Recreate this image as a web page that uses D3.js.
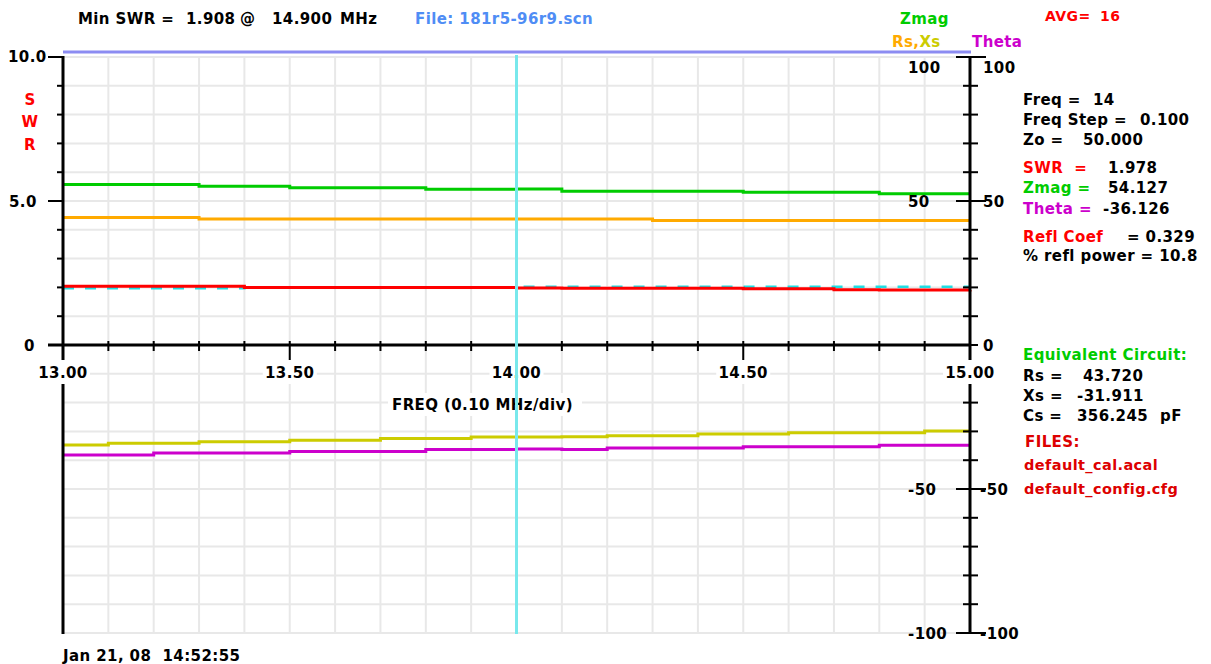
<!DOCTYPE html>
<html>
<head>
<meta charset="utf-8">
<script src="https://cdn.jsdelivr.net/npm/d3@7"></script>
<style>
  html, body { margin: 0; padding: 0; background: #ffffff; }
  svg { display: block; }
  text {
    font-family: "DejaVu Sans", "Liberation Sans", sans-serif;
    font-weight: bold;
    font-size: 15px;
    letter-spacing: 0.4px;
  }
</style>
</head>
<body>
<svg id="chart" width="1211" height="664"></svg>
<script>
// ---- Scan data (one reading per 0.1 MHz step) ----
const freqs    = [13.0, 13.1, 13.2, 13.3, 13.4, 13.5, 13.6, 13.7, 13.8, 13.9, 14.0,
                  14.1, 14.2, 14.3, 14.4, 14.5, 14.6, 14.7, 14.8, 14.9, 15.0];
const swr      = [2.04, 2.04, 2.04, 2.04, 2.00, 2.00, 2.00, 2.00, 2.00, 2.00, 1.978,
                  1.97, 1.97, 1.97, 1.97, 1.955, 1.955, 1.915, 1.912, 1.908, 1.91];
const swrMemory = [1.97, 1.97, 1.97, 1.97, 2.00, 2.00, 2.00, 2.00, 2.00, 2.00, 2.02,
                  2.02, 2.02, 2.02, 2.02, 2.02, 2.02, 2.02, 2.02, 2.02, 2.02];
const zmag     = [55.7, 55.7, 55.7, 55.1, 55.1, 54.6, 54.6, 54.6, 54.1, 54.1, 54.127,
                  53.4, 53.4, 53.4, 53.4, 53.05, 53.05, 53.05, 52.5, 52.5, 52.5];
const rs       = [44.3, 44.3, 44.3, 43.72, 43.72, 43.72, 43.72, 43.72, 43.72, 43.72, 43.72,
                  43.72, 43.72, 43.25, 43.25, 43.25, 43.25, 43.25, 43.25, 43.25, 43.25];
const xs       = [-34.7, -34.1, -34.1, -33.6, -33.6, -33.1, -33.1, -32.5, -32.5, -31.95, -31.911,
                  -31.9, -31.5, -31.5, -30.9, -30.9, -30.5, -30.5, -30.5, -29.9, -29.9];
const theta    = [-38.2, -38.2, -37.5, -37.5, -37.5, -37.0, -37.0, -37.0, -36.3, -36.3, -36.126,
                  -36.3, -35.8, -35.8, -35.8, -35.3, -35.3, -35.3, -34.8, -34.8, -34.8];

const cursorFreq = 14.0;

// ---- Axis ticks and labels ----
const freqTicks      = [13.0, 13.5, 14.0, 14.5, 15.0];
const freqTickLabels = ["13.00", "13.50", "14.00", "14.50", "15.00"];
const swrTicks       = [0, 5, 10];
const swrTickLabels  = ["0", "5.0", "10.0"];
const rightTicks       = [100, 50, 0, -50, -100];
const rightInnerLabels = ["100", "50", "", "-50", "-100"];
const rightOuterLabels = ["100", "50", "0", "-50", "-100"];

// ---- Readouts ----
const minSwrValue = "1.908";
const minSwrFreq  = "14.900";
const scanFile    = "File: 181r5-96r9.scn";
const avgCount    = "16";
const dateStamp   = "Jan 21, 08  14:52:55";
const freqAxisTitle = "FREQ (0.10 MHz/div)";
const calFiles    = ["default_cal.acal", "default_config.cfg"];

// ---- Colours ----
const C = {
  grid: "#e8e8e8", axis: "#000000", top: "#8c8cf2", cursor: "#78e8ec",
  swr: "#ff0000", mem: "#20dde2", zmag: "#00cc00", rs: "#ffaa00",
  xs: "#cccc00", theta: "#cc00cc", file: "#4f8df5", red: "#ff0000", darkRed: "#dd0000"
};

const svg = d3.select("#chart");

const x    = d3.scaleLinear().domain([13, 15]).range([63, 970]);
const ySwr = d3.scaleLinear().domain([0, 10]).range([345, 57]);
const yR   = d3.scaleLinear().domain([-100, 100]).range([633, 57]);

const X0 = x.range()[0], X1 = x.range()[1];
const YT = yR.range()[1], YB = yR.range()[0], Y0 = yR(0);

// text helper: y is the visual centre of capitals
const CAP = 5.5;
function label(g, str, px, py, opts = {}) {
  const t = g.append("text")
    .attr("x", px).attr("y", py + CAP)
    .attr("fill", opts.fill || "#000")
    .attr("text-anchor", opts.anchor || "start")
    .attr("xml:space", "preserve")
    .text(str);
  if (opts.size) t.style("font-size", opts.size + "px");
  return t;
}

// ---- Grid ----
const grid = svg.append("g");
grid.selectAll(".vg").data(x.ticks(20)).join("line")
  .attr("x1", d => x(d)).attr("x2", d => x(d))
  .attr("y1", YT).attr("y2", YB)
  .attr("stroke", C.grid).attr("stroke-width", 2);
grid.selectAll(".hg").data(yR.ticks(20)).join("line")
  .attr("x1", X0).attr("x2", X1)
  .attr("y1", d => yR(d)).attr("y2", d => yR(d))
  .attr("stroke", C.grid).attr("stroke-width", 2);

// top rule of the plotting area
svg.append("line")
  .attr("x1", X0).attr("x2", X1 + 1)
  .attr("y1", YT - 5).attr("y2", YT - 5)
  .attr("stroke", C.top).attr("stroke-width", 3);

// ---- Traces ----
const rows = freqs.map((f, i) => ({
  f, swr: swr[i], mem: swrMemory[i], zmag: zmag[i], rs: rs[i], xs: xs[i], theta: theta[i]
}));

function trace(key, yScale, color, width, dash) {
  const gen = d3.line()
    .x(d => x(d.f))
    .y(d => yScale(d[key]))
    .curve(d3.curveStepAfter);
  const p = svg.append("path")
    .datum(rows)
    .attr("d", gen)
    .attr("fill", "none")
    .attr("stroke", color)
    .attr("stroke-width", width);
  if (dash) p.attr("stroke-dasharray", dash);
}

trace("zmag", yR, C.zmag, 3);
trace("rs", yR, C.rs, 3);
trace("mem", ySwr, C.mem, 2.5, "11,11");
trace("swr", ySwr, C.swr, 3);
trace("xs", yR, C.xs, 3);
trace("theta", yR, C.theta, 3);

// ---- Axes ----
const ax = svg.append("g").attr("stroke", C.axis).attr("stroke-width", 3);
// left axis
ax.append("line").attr("x1", X0).attr("x2", X0).attr("y1", YT - 1).attr("y2", YB + 1);
// right axis
ax.append("line").attr("x1", X1).attr("x2", X1).attr("y1", YT - 1).attr("y2", YB + 1);
// frequency axis
ax.append("line").attr("x1", 48).attr("x2", X1).attr("y1", Y0).attr("y2", Y0);

// SWR ticks (left)
ax.selectAll(".lt").data(d3.range(0, 11)).join("line")
  .attr("x1", d => swrTicks.includes(d) ? 48 : 57).attr("x2", X0)
  .attr("y1", d => ySwr(d)).attr("y2", d => ySwr(d))
  .attr("stroke-width", 2);

// right ticks every 10 units
ax.selectAll(".rt").data(yR.ticks(20).filter(d => d !== -10 && d !== 0)).join("line")
  .attr("x1", d => rightTicks.includes(d) ? 956 : 963)
  .attr("x2", d => rightTicks.includes(d) ? 986 : 978)
  .attr("y1", d => yR(d)).attr("y2", d => yR(d))
  .attr("stroke-width", 2);
ax.append("line").attr("x1", X1).attr("x2", 978).attr("y1", Y0).attr("y2", Y0).attr("stroke-width", 2);

// frequency ticks
ax.selectAll(".ft").data(x.ticks(20).filter(d => d > 13.05 && d < 14.95)).join("line")
  .attr("x1", d => x(d)).attr("x2", d => x(d))
  .attr("y1", 341)
  .attr("y2", d => freqTicks.some(t => Math.abs(t - d) < 1e-6) ? 362 : 351)
  .attr("stroke-width", 2);

// ---- Axis labels ----
const lab = svg.append("g");

freqTicks.forEach((f, i) => {
  lab.append("rect").attr("x", x(f) - 27).attr("y", 360).attr("width", 54).attr("height", 24).attr("fill", "#fff");
  label(lab, freqTickLabels[i], x(f), 372, { anchor: "middle" });
});

const swrLabelX = [24, 9, 8];
swrTicks.forEach((v, i) => {
  label(lab, swrTickLabels[i], swrLabelX[i], v === 10 ? ySwr(v) - 1 : ySwr(v));
});
["S", "W", "R"].forEach((ch, i) => label(lab, ch, 30, 99 + i * 22.5, { anchor: "middle", fill: C.red }));

rightTicks.forEach((v, i) => {
  const py = v === 100 ? yR(v) + 10 : yR(v);
  if (rightInnerLabels[i]) label(lab, rightInnerLabels[i], 908, py);
  label(lab, rightOuterLabels[i], v < 0 ? 980 : 983, py);
});

// frequency axis title on a white plate
lab.append("rect").attr("x", 388).attr("y", 393).attr("width", 194).attr("height", 23).attr("fill", "#fff");
label(lab, freqAxisTitle, 392, 404);

label(lab, dateStamp, 63, 655);

// ---- Header ----
const hdr = svg.append("g");
label(hdr, "Min SWR =", 78, 18);
label(hdr, minSwrValue, 186, 18);
label(hdr, "@", 240, 18);
label(hdr, minSwrFreq, 272, 18);
label(hdr, "MHz", 340, 18);
label(hdr, scanFile, 415, 18, { fill: C.file });
label(hdr, "Zmag", 900, 18, { fill: C.zmag });
label(hdr, "AVG=", 1045, 15, { fill: C.red, size: 14 });
label(hdr, avgCount, 1100, 15, { fill: C.red, size: 14 });
const rsxs = label(hdr, "", 892, 41);
rsxs.append("tspan").attr("fill", C.rs).text("Rs,");
rsxs.append("tspan").attr("fill", C.xs).text("Xs");
label(hdr, "Theta", 972, 41, { fill: C.theta });

// ---- Readout panel ----
const info = svg.append("g");
const IX = 1023;
const readouts = [
  { y: 99,  name: "Freq =",       col: "#000",    value: "14",      vx: 1093 },
  { y: 119, name: "Freq Step =",  col: "#000",    value: "0.100",   vx: 1140 },
  { y: 139, name: "Zo =",         col: "#000",    value: "50.000",  vx: 1083 },
  { y: 167, name: "SWR  =",       col: C.red,     value: "1.978",   vx: 1108 },
  { y: 187, name: "Zmag =",       col: C.zmag,    value: "54.127",  vx: 1108 },
  { y: 208, name: "Theta =",      col: C.theta,   value: "-36.126", vx: 1103 },
  { y: 236, name: "Refl Coef",    col: C.red,     value: "= 0.329", vx: 1127 },
  { y: 255, name: "% refl power = 10.8", col: "#000", value: "", vx: 0 },
  { y: 354, name: "Equivalent Circuit:", col: C.zmag, value: "", vx: 0 },
  { y: 375, name: "Rs =",         col: "#000",    value: "43.720",  vx: 1083 },
  { y: 395, name: "Xs =",         col: "#000",    value: "-31.911", vx: 1077 },
  { y: 415, name: "Cs =",         col: "#000",    value: "356.245", vx: 1077 }
];
readouts.forEach(r => {
  label(info, r.name, IX, r.y, { fill: r.col });
  if (r.value) label(info, r.value, r.vx, r.y);
});
label(info, "pF", 1160, 415);
label(info, "FILES:", 1025, 441, { fill: C.darkRed });
calFiles.forEach((fname, i) => label(info, fname, 1024, 464 + i * 24.5, { fill: C.darkRed, size: 14.5 }));

// ---- Marker cursor ----
svg.append("line")
  .attr("x1", x(cursorFreq)).attr("x2", x(cursorFreq))
  .attr("y1", YT - 2).attr("y2", YB + 1)
  .attr("stroke", C.cursor).attr("stroke-width", 3);
</script>
</body>
</html>
